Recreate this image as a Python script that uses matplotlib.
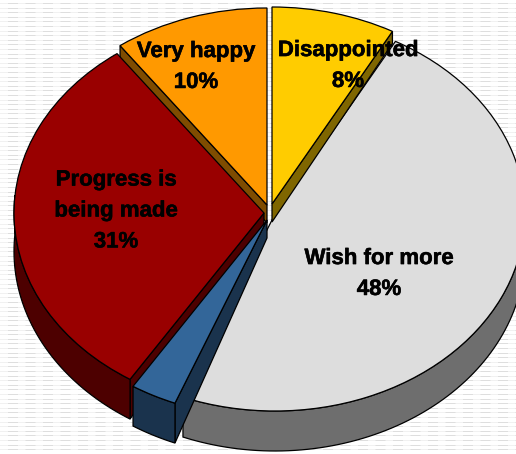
import numpy as np
import matplotlib
matplotlib.use("Agg")
import matplotlib.pyplot as plt
import matplotlib.patheffects as pe

###################################################################
# Data
###################################################################
labels = ["Disappointed", "Wish for more", "", "Progress is\nbeing made", "Very happy"]
shares = [8, 48, 3, 31, 10]

###################################################################
# Style
###################################################################
W, H = 516, 454
RX, RY = 250.0, 197.0      # pixel size of the top ellipse
CX, CY = 268.0, 211.0      # reference point for the data coords
APEX_DEPTH = 18.0          # wall height at the slice tip
top_colors = ["#FFCC00", "#DDDDDD", "#336699", "#990000", "#FF9900"]
side_colors = ["#7F6600", "#6E6E6E", "#1A334D", "#4D0000", "#7F4C00"]
apex_px = [(272, 204), (275, 214), (267, 220), (264, 213), (267, 205)]
wall_side = [1, None, 0, 0, 0]   # which radial edge shows its wall
has_rim = [False, True, True, True, False]
draw_order = [1, 0, 4, 3, 2]
label_px = [(348, 66), (379, 274), None, (116, 211), (196, 67)]


def y_px(p):
    return (CY - p) / RY


def x_px(p):
    return (p - CX) / RX


def rim_depth(v):
    # wall height at the outer edge, taller towards the viewer
    return np.interp(v, [-1.0, 0.1, 0.85], [40.0, 38.0, 12.0]) / RY


fig = plt.figure(figsize=(W / 100, H / 100), dpi=100, facecolor="white")
ax = fig.add_axes([0, 0, 1, 1])

# faint stripes of the slide background
for p in np.arange(3, H, 4.6):
    ax.axhline(y_px(p), color="#F1F1F1", lw=0.72, zorder=0)
    ax.axhline(y_px(p), color="#DEDEDE", lw=0.72, zorder=0,
               linestyle=(10, (10, 7.5)))

edges = np.cumsum([0] + shares) / sum(shares) * 360.0

for z, i in enumerate(draw_order):
    # clockwise from 12 o'clock, same as the pie below
    t0, t1 = edges[i], edges[i + 1]
    ox, oy = x_px(apex_px[i][0]), y_px(apex_px[i][1])
    zz = 2 * z + 1

    if wall_side[i] is not None:
        r = np.radians((t0, t1)[wall_side[i]])
        frac = np.array([0.0, 1.0])
        px = ox + frac * np.sin(r)
        py = oy + frac * np.cos(r)
        d = APEX_DEPTH / RY + frac * (rim_depth(np.cos(r)) - APEX_DEPTH / RY)
        ax.fill(np.r_[px, px[::-1]], np.r_[py, (py - d)[::-1]],
                fc=side_colors[i], ec="black", lw=0.9, zorder=zz)

    if has_rim[i]:
        t = np.linspace(np.radians(t0), np.radians(t1), 120)
        t = t[np.cos(t) < 0.1]
        ux, uy = ox + np.sin(t), oy + np.cos(t)
        ax.fill(np.r_[ux, ux[::-1]],
                np.r_[uy, (uy - rim_depth(np.cos(t)))[::-1]],
                fc=side_colors[i], ec="black", lw=0.9, zorder=zz)

    wedges, _ = ax.pie([shares[i], sum(shares) - shares[i]],
                       colors=[top_colors[i], "none"],
                       startangle=90 - t0, counterclock=False,
                       center=(ox, oy), radius=1.0,
                       wedgeprops={"linewidth": 0.9})
    wedges[0].set_edgecolor("black")
    wedges[0].set_zorder(zz + 1)
    wedges[1].set_visible(False)

for i, pos in enumerate(label_px):
    if pos is None:
        continue
    head = labels[i] + "\n" if labels[i] else ""
    txt = ax.text(x_px(pos[0]), y_px(pos[1]), f"{head}{shares[i]}%",
                  ha="center", va="center", fontsize=16, fontweight="bold",
                  family="Liberation Sans", color="black",
                  linespacing=1.62, zorder=30)
    txt.set_path_effects([pe.withStroke(linewidth=0.4, foreground="black")])

ax.set_aspect("auto")
ax.set_xlim(x_px(0), x_px(W))
ax.set_ylim(y_px(H), y_px(0))
ax.axis("off")

fig.savefig("out.png", dpi=100, facecolor="white")
